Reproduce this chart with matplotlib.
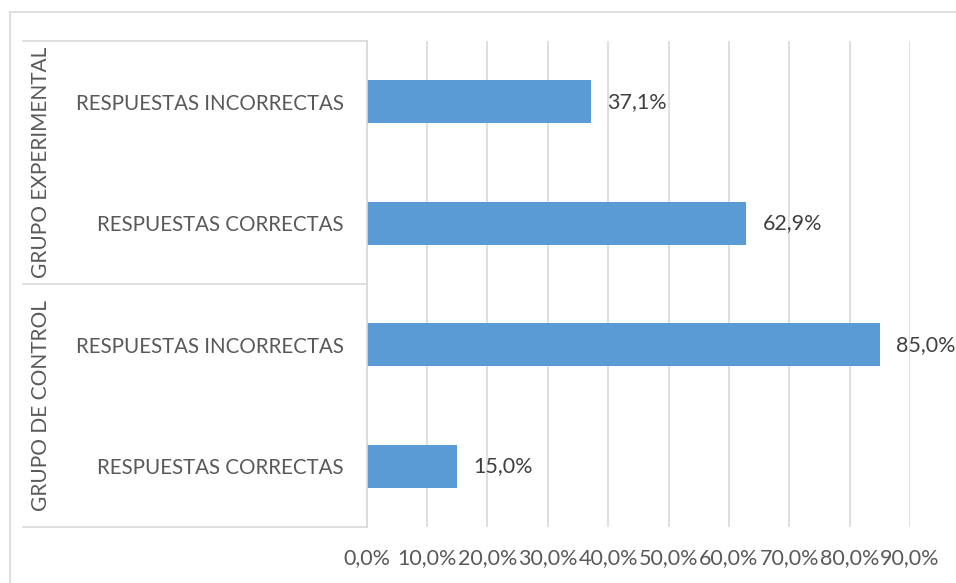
import matplotlib.pyplot as plt
from matplotlib.lines import Line2D

categories = ["RESPUESTAS CORRECTAS", "RESPUESTAS INCORRECTAS",
              "RESPUESTAS CORRECTAS", "RESPUESTAS INCORRECTAS"]
groups = ["GRUPO DE CONTROL", "GRUPO EXPERIMENTAL"]
values = [15.0, 85.0, 62.9, 37.1]
ticks = [0, 10, 20, 30, 40, 50, 60, 70, 80, 90]

plt.rcParams['font.family'] = ['Lato', 'DejaVu Sans']

W, H = 956, 583
fig = plt.figure(figsize=(W / 100, H / 100), dpi=100)

x0, x1 = 366.7, 910
y0, y1 = 527, 41
ax = fig.add_axes([x0 / W, 1 - y0 / H, (x1 - x0) / W, (y0 - y1) / H])

pos = list(range(len(values)))
ax.barh(pos, values, height=0.35, color="#5B9BD5", zorder=3)
ax.set_xlim(0, 90)
ax.set_ylim(-0.5, len(values) - 0.5)

for p, v in zip(pos, values):
    ax.annotate(f"{v:.1f}%".replace(".", ","), (v, p), xytext=(16, 0),
                textcoords="offset pixels", va="center", ha="left",
                fontsize=15.5, color="#404040")

ax.set_xticks(ticks)
ax.set_xticklabels([f"{t:.1f}%".replace(".", ",") for t in ticks],
                   fontsize=15.5, color="#595959")
ax.tick_params(axis="x", length=0, pad=15)
ax.set_yticks(pos)
ax.set_yticklabels(categories, fontsize=14.8, color="#595959")
ax.tick_params(axis="y", length=0, pad=16.5)
ax.grid(axis="x", color="#D9D9D9", linewidth=1.2, zorder=0)
for s in ax.spines.values():
    s.set_visible(False)

# category table lines on the left
lc = "#D9D9D9"
lw = 1.2
xl = 23 / W
xa = x0 / W
for yy in [41, 284, 527]:
    fig.add_artist(Line2D([xl, xa], [1 - yy / H, 1 - yy / H], color=lc, lw=lw))
fig.add_artist(Line2D([xa, xa], [1 - y0 / H, 1 - y1 / H], color=lc, lw=lw))

# group labels
for g, yc in zip(groups, [405.5, 162.5]):
    fig.text(41 / W, 1 - yc / H, g, rotation=90, ha="center", va="center",
             fontsize=15, color="#595959")

# outer chart border (top and left only visible)
fig.add_artist(Line2D([10 / W, 1], [1 - 12 / H, 1 - 12 / H], color=lc, lw=lw))
fig.add_artist(Line2D([10 / W, 10 / W], [0, 1 - 12 / H], color=lc, lw=lw))

fig.savefig("out.png", dpi=100)
